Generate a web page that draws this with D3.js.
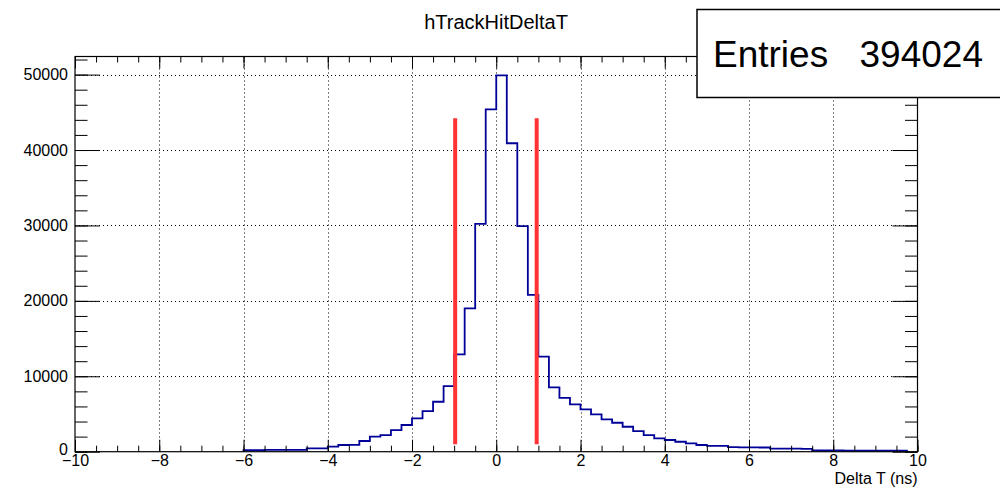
<!DOCTYPE html>
<html>
<head>
<meta charset="utf-8">
<script src="https://cdn.jsdelivr.net/npm/d3@7"></script>
<style>
  html, body { margin: 0; padding: 0; background: #fff; }
  svg { display: block; font-family: "Liberation Sans", Arial, Helvetica, sans-serif; }
</style>
</head>
<body>
<svg id="chart" width="1000" height="488"></svg>
<script>
// ---- data ----
const chartTitle = "hTrackHitDeltaT";
const xAxisTitle = "Delta T (ns)";
const statsLabel = "Entries";
const statsValue = "394024";
const xRange = [-10, 10];
const binWidth = 0.25;
// counts for 80 bins from -10 to 10 (width 0.25)
const counts = [
  0,0,0,0,0,0,0,0, 0,0,0,0,0,0,0,0,          // -10 .. -6
  220,220,230,230,240,250,                   // -6 .. -4.5
  450,450,660,890,900,1420,1990,2210,        // -4.5 .. -2.5
  2870,3540,4420,5390,6620,8700,12900,19000, // -2.5 .. -0.5
  30200,45400,49900,40900,29900,20800,12600,8530, // -0.5 .. 1.5
  7150,6280,5610,4950,4290,3840,3310,2740,   // 1.5 .. 3.5
  2210,1770,1550,1320,1110,890,760,760,      // 3.5 .. 5.5
  600,580,580,560,420,400,400,380,           // 5.5 .. 7.5
  170,160,160,150,150,140,140,130,130,0      // 7.5 .. 10
];
const xMajorTicks = [-10,-8,-6,-4,-2,0,2,4,6,8,10];
const yMajorTicks = [0,10000,20000,30000,40000,50000];
const yMax = 52400;
const cutLines = [-0.975, 0.96];
const cutLineRange = [1000, 44200];

// ---- layout ----
const frame = { left: 75, right: 917.5, top: 56.5, bottom: 451.7 };
const svg = d3.select("#chart");
const x = d3.scaleLinear().domain(xRange).range([frame.left, frame.right]);
const y = d3.scaleLinear().domain([0, yMax]).range([frame.bottom, frame.top]);

const xMinorTicks = d3.range(xRange[0], xRange[1] + 1e-9, 0.5);
const yMinorTicks = d3.range(0, yMax, 2000);

// grid
const grid = svg.append("g").attr("stroke", "#000").attr("stroke-width", 1)
  .attr("stroke-dasharray", "1,3");
xMajorTicks.filter(t => t > xRange[0] && t < xRange[1]).forEach(t => {
  grid.append("line").attr("x1", Math.round(x(t)) + 0.5).attr("x2", Math.round(x(t)) + 0.5)
    .attr("y1", frame.top).attr("y2", frame.bottom);
});
yMajorTicks.filter(t => t > 0).forEach(t => {
  grid.append("line").attr("y1", Math.round(y(t)) + 0.5).attr("y2", Math.round(y(t)) + 0.5)
    .attr("x1", frame.left).attr("x2", frame.right);
});

// histogram outline (from first to last non-empty bin, dropping to the baseline)
const firstBin = counts.findIndex(c => c > 0);
let lastBin = counts.length - 1;
while (lastBin > 0 && counts[lastBin] === 0) lastBin--;
const pts = [[xRange[0] + firstBin * binWidth, 0]];
for (let i = firstBin; i <= lastBin; i++) {
  const lo = xRange[0] + i * binWidth;
  pts.push([lo, counts[i]]);
  pts.push([lo + binWidth, counts[i]]);
}
pts.push([xRange[0] + (lastBin + 1) * binWidth, 0]);
const line = d3.line().x(d => x(d[0])).y(d => y(d[1]));
svg.append("path").attr("d", line(pts)).attr("fill", "none")
  .attr("stroke", "#000099").attr("stroke-width", 1.8);

// axes
function addAxis(axisFn, scale, vals, size, transform, labels, padding) {
  const a = axisFn(scale).tickValues(vals).tickSize(size).tickPadding(padding || 3);
  if (labels) a.tickFormat(d3.format("d")); else a.tickFormat("");
  const g = svg.append("g").attr("transform", transform).call(a);
  g.select(".domain").remove();
  g.selectAll("line").attr("stroke", "#000").attr("stroke-width", 1);
  g.selectAll("text").attr("fill", "#000").attr("font-size", 16)
    .attr("font-family", "'Liberation Sans', Arial, Helvetica, sans-serif");
  return g;
}
addAxis(d3.axisBottom, x, xMajorTicks, -12, `translate(0,${frame.bottom})`, true, 3);
addAxis(d3.axisBottom, x, xMinorTicks, -6, `translate(0,${frame.bottom})`, false);
addAxis(d3.axisTop, x, xMajorTicks, -12, `translate(0,${frame.top})`, false);
addAxis(d3.axisTop, x, xMinorTicks, -6, `translate(0,${frame.top})`, false);
const yAx = addAxis(d3.axisLeft, y, yMajorTicks, -25, `translate(${frame.left},0)`, true, 7);
yAx.selectAll("text").filter(d => d === 0).attr("dy", "0.2em");
addAxis(d3.axisLeft, y, yMinorTicks, -12.5, `translate(${frame.left},0)`, false);
addAxis(d3.axisRight, y, yMajorTicks, -25, `translate(${frame.right},0)`, false);
addAxis(d3.axisRight, y, yMinorTicks, -12.5, `translate(${frame.right},0)`, false);

// cut lines
cutLines.forEach(c => {
  svg.append("line").attr("x1", x(c)).attr("x2", x(c))
    .attr("y1", y(cutLineRange[0])).attr("y2", y(cutLineRange[1]))
    .attr("stroke", "#ff3333").attr("stroke-width", 4);
});

// frame
svg.append("rect").attr("x", frame.left).attr("y", frame.top)
  .attr("width", frame.right - frame.left).attr("height", frame.bottom - frame.top)
  .attr("fill", "none").attr("stroke", "#000").attr("stroke-width", 1.2);

// axis title
svg.append("text").attr("x", frame.right).attr("y", 484).attr("text-anchor", "end")
  .attr("font-size", 16).attr("fill", "#000").text(xAxisTitle);

// title
svg.append("text").attr("x", 496).attr("y", 29).attr("text-anchor", "middle")
  .attr("font-size", 20).attr("fill", "#000").text(chartTitle);

// stats box
svg.append("rect").attr("x", 697).attr("y", 9.5).attr("width", 320).attr("height", 88)
  .attr("fill", "#fff").attr("stroke", "#000").attr("stroke-width", 1.5);
svg.append("text").attr("x", 713).attr("y", 67).attr("font-size", 37).attr("fill", "#000").text(statsLabel);
svg.append("text").attr("x", 983).attr("y", 67).attr("font-size", 37).attr("text-anchor", "end")
  .attr("fill", "#000").text(statsValue);
</script>
</body>
</html>
